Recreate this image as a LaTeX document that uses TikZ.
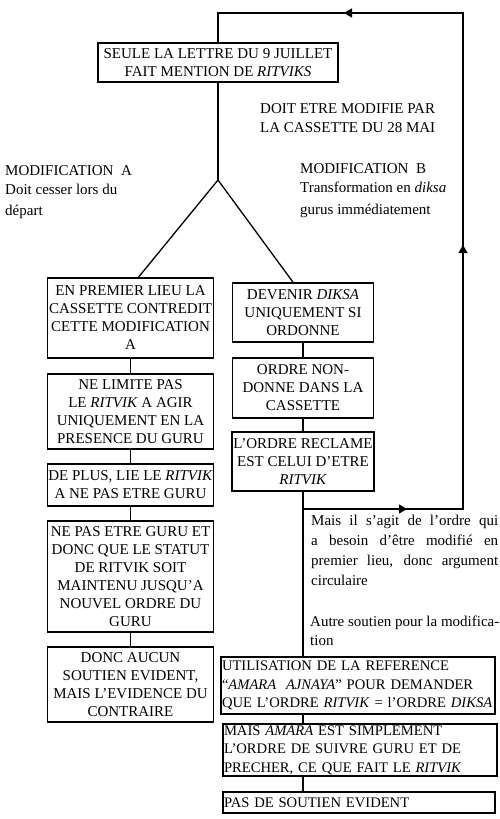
\documentclass[tikz,border=0pt]{standalone}
\usepackage{fontspec}
\setmainfont{Liberation Serif}
\usetikzlibrary{positioning, arrows.meta, decorations.markings}

\begin{document}
\begin{tikzpicture}[
			x=1pt,
			y=-1pt,
			>={Triangle[length=8pt,width=9pt]},
			every node/.style={
				font=\fontsize{15}{18}\selectfont
			},
			box/.style={
				draw=black,
				line width=1.6pt,
				inner sep=1pt,
				align=center
			},
			wide/.style={
				draw=black,
				line width=1.6pt,
				inner sep=1pt,
				text width=#1,
				align=left,
				font=\fontsize{14.6}{18.5}\selectfont
			},
			note/.style={
				inner sep=0pt,
				anchor=north west,
				align=left,
				font=\fontsize{15}{19}\selectfont
			},
			link/.style={
				draw=black,
				line width=1.3pt
			}
			]
			\useasboundingbox (0,0) rectangle (500,819);
			% Top box
			\node[box, minimum width=240pt, minimum height=39pt] (lettre) at (218,62.5) {SEULE LA LETTRE DU 9 JUILLET\\FAIT MENTION DE \textit{RITVIKS}};
			% Free texts
			\node[note] (cassette) at (260,103) {DOIT ETRE MODIFIE PAR\\LA CASSETTE DU 28 MAI};
			\node[note] (modA) at (5,165) {MODIFICATION~~A\\Doit cesser lors du\\[2pt]départ};
			\node[note] (modB) at (300,163) {MODIFICATION~~B\\Transformation en \textit{diksa}\\[3pt]gurus immédiatement};
			% Modification A
			\node[box, minimum width=166pt, minimum height=80pt] (a1) at (130.5,318) {EN PREMIER LIEU LA\\CASSETTE CONTREDIT\\CETTE MODIFICATION\\A};
			\node[box, minimum width=166pt, minimum height=75pt] (a2) at (130.5,411.5) {NE LIMITE PAS\\LE \textit{RITVIK} A AGIR\\UNIQUEMENT EN LA\\PRESENCE DU GURU};
			\node[box, minimum width=166pt, minimum height=42pt] (a3) at (130.5,485) {DE PLUS, LIE LE \textit{RITVIK}\\A NE PAS ETRE GURU};
			\node[box, minimum width=166pt, minimum height=111pt] (a4) at (130.5,576.5) {NE PAS ETRE GURU ET\\DONC QUE LE STATUT\\DE RITVIK SOIT\\MAINTENU JUSQU’A\\NOUVEL ORDRE DU\\GURU};
			\node[box, minimum width=166pt, minimum height=75pt] (a5) at (130.5,684.5) {DONC AUCUN\\SOUTIEN EVIDENT,\\MAIS L’EVIDENCE DU\\CONTRAIRE};
			% Modification B
			\node[box, minimum width=141pt, minimum height=59pt] (b1) at (303,312.5) {DEVENIR \textit{DIKSA}\\UNIQUEMENT SI\\ORDONNE};
			\node[box, minimum width=141pt, minimum height=60pt] (b2) at (303,388) {ORDRE NON-\\DONNE DANS LA\\CASSETTE};
			\node[box, minimum width=142pt, minimum height=59pt] (b3) at (303,461.5) {L’ORDRE RECLAME\\EST CELUI D’ETRE\\\textit{RITVIK}};
			\node[note, text width=187pt, align=justify, font=\fontsize{15}{20}\selectfont] (circ) at (311,515) {Mais il s’agit de l’ordre qui\linebreak a besoin d’être modifié en\linebreak premier lieu, donc argument\linebreak circulaire};
			\node[note] (autre) at (310,616) {Autre soutien pour la modifica-\\tion};
			% Other support
			\node[wide=272pt, minimum height=57pt] (c1) at (358,685.5) {UTILISATION DE LA REFERENCE\\“\textit{AMARA~~AJNAYA}” POUR DEMANDER\\QUE L’ORDRE \textit{RITVIK} = l’ORDRE \textit{DIKSA}};
			\node[wide=272pt, minimum height=52pt] (c2) at (360,750) {MAIS \textit{AMARA} EST SIMPLEMENT\\L’ORDRE DE SUIVRE GURU ET DE\\PRECHER, CE QUE FAIT LE \textit{RITVIK}};
			\node[wide=270pt, minimum height=21pt] (c3) at (359,802.5) {PAS DE SOUTIEN EVIDENT};
			% Connectors
			\coordinate (fork) at (218,180);
			\coordinate (tap) at (303,509);
			\coordinate (se) at (463,509);
			\coordinate (ne) at (463,13);
			\coordinate (nw) at (218,13);
			\draw[link] (lettre.south) -- (fork);
			\draw[link] (fork) -- ([xshift=8pt]a1.north);
			\draw[link] (fork) -- ([xshift=-10pt]b1.north);
			\draw[link] (a1) -- (a2);
			\draw[link] (a2) -- (a3);
			\draw[link] (a3) -- (a4);
			\draw[link] (a4) -- (a5);
			\draw[link] (b1) -- (b2);
			\draw[link] (b2) -- (b3);
			\draw[link] (b3.south) -- (b3.south |- c1.north);
			\draw[link] (c1.south -| b3.south) -- (c2.north -| b3.south);
			\draw[link] (c2.south -| b3.south) -- (c3.north -| b3.south);
			\draw[link, postaction={decorate}, decoration={markings,
					mark=at position 104pt with {\arrow{>}},
					mark=at position 424pt with {\arrow{>}},
					mark=at position 775pt with {\arrow{>}}}]
				(tap) -- (se) -- (ne) -- (nw) -- (lettre.north);
		\end{tikzpicture}
\end{document}
